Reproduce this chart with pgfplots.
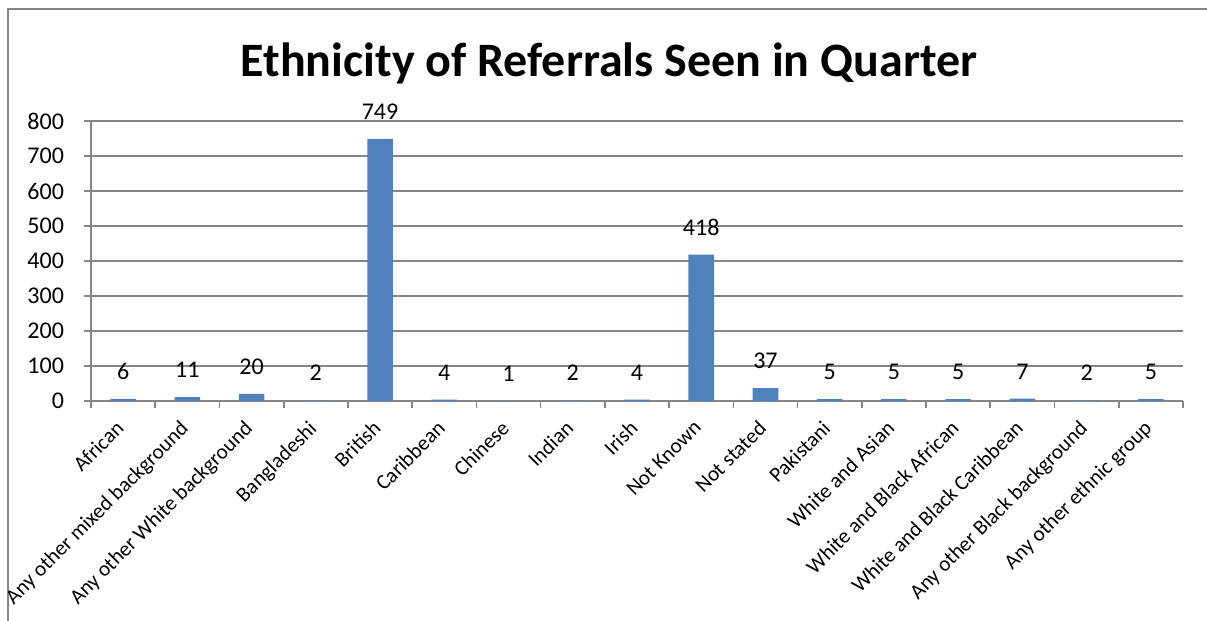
\documentclass[border=0pt]{standalone}
\usepackage{pgfplots}
\pgfplotsset{compat=1.18}
\usepackage{fontspec}
\setmainfont{Carlito}
\definecolor{barblue}{RGB}{79,129,189}
\definecolor{gridgray}{RGB}{134,134,134}
\begin{document}
\begin{tikzpicture}
\useasboundingbox[fill=white] (-45.5pt,-110pt) rectangle (558pt,200.5pt);
\draw[gridgray, line width=0.9pt] (-41.5pt,-110pt) -- (-41.5pt,196pt) -- (558pt,196pt);
\node[font=\bfseries\fontsize{24pt}{28pt}\selectfont] at (259pt,169pt) {Ethnicity of Referrals Seen in Quarter};
\begin{axis}[
 at={(0pt,0pt)}, anchor=south west,
 scale only axis, width=546pt, height=140pt,
 xmin=-0.5, xmax=16.5, ymin=0, ymax=800,
 ytick={0,100,...,800},
 xtick={-0.5,0.5,...,16.5},
 xticklabels={},
 extra x ticks={0,1,...,16},
 extra x tick labels={African,Any other mixed background,Any other White background,Bangladeshi,British,Caribbean,Chinese,Indian,Irish,Not Known,Not stated,Pakistani,White and Asian,White and Black African,White and Black Caribbean,Any other Black background,Any other ethnic group},
 extra x tick style={major tick length=0pt, tick label style={rotate=45, anchor=north east, xshift=-6pt, yshift=0pt, font=\fontsize{10.6pt}{13pt}\selectfont}},
 axis x line*=bottom, axis y line*=left,
 axis line style={gridgray, line width=0.8pt, -},
 ymajorgrids, grid style={gridgray, line width=0.8pt},
 tick align=outside,
 major tick length=3.5pt,
 tick style={gridgray, line width=0.8pt},
 yticklabel style={font=\fontsize{12pt}{14pt}\selectfont, xshift=-6.5pt},
 /pgf/number format/assume math mode=true,
]
\addplot[ybar, fill=barblue, draw=none, bar width=12.8pt,
 nodes near coords,
 every node near coord/.append style={anchor=south, inner sep=0pt, yshift=9.5pt, font=\fontsize{12pt}{14pt}\selectfont, text=black}]
 coordinates {(0,6) (1,11) (2,20) (3,2) (4,749) (5,4) (6,1) (7,2) (8,4) (9,418) (10,37) (11,5) (12,5) (13,5) (14,7) (15,2) (16,5)};
\end{axis}
\end{tikzpicture}
\end{document}
